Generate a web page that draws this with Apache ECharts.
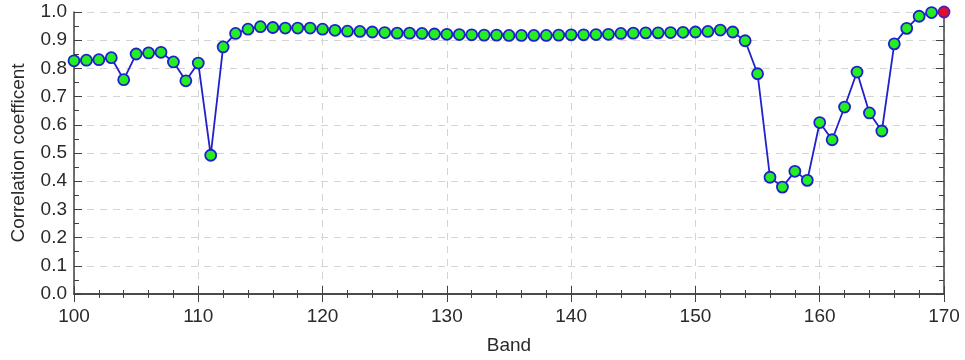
<!DOCTYPE html>
<html>
<head>
<meta charset="utf-8">
<script src="https://cdn.jsdelivr.net/npm/echarts@6/dist/echarts.min.js"></script>
<style>
  html, body { margin: 0; padding: 0; background: #fff; }
  #chart { width: 965px; height: 360px; }
</style>
</head>
<body>
<div id="chart"></div>
<script>
// band numbers (x)
var bands = [
  100, 101, 102, 103, 104, 105, 106, 107, 108, 109,
  110, 111, 112, 113, 114, 115, 116, 117, 118, 119,
  120, 121, 122, 123, 124, 125, 126, 127, 128, 129,
  130, 131, 132, 133, 134, 135, 136, 137, 138, 139,
  140, 141, 142, 143, 144, 145, 146, 147, 148, 149,
  150, 151, 152, 153, 154, 155, 156, 157, 158, 159,
  160, 161, 162, 163, 164, 165, 166, 167, 168, 169,
  170
];

// correlation coefficient per band
var corr = [
  0.827, 0.829, 0.831, 0.838, 0.760, 0.851, 0.855, 0.857, 0.823, 0.756,
  0.819, 0.492, 0.876, 0.924, 0.939, 0.948, 0.945, 0.943, 0.943, 0.943,
  0.939, 0.935, 0.932, 0.931, 0.929, 0.927, 0.925, 0.925, 0.924, 0.922,
  0.921, 0.920, 0.919, 0.918, 0.918, 0.917, 0.917, 0.917, 0.917, 0.918,
  0.919, 0.919, 0.920, 0.921, 0.924, 0.925, 0.926, 0.926, 0.927, 0.928,
  0.929, 0.931, 0.936, 0.929, 0.898, 0.781, 0.414, 0.379, 0.435, 0.403,
  0.608, 0.547, 0.663, 0.787, 0.642, 0.578, 0.887, 0.942, 0.985, 0.998,
  1.000
];

var yTicks = ['0.0', '0.1', '0.2', '0.3', '0.4', '0.5', '0.6', '0.7', '0.8', '0.9', '1.0'];

var myChart = echarts.init(document.getElementById('chart'));

var txt = '#2a2a2a';
var frame = '#404040';
var gridLine = { show: true, lineStyle: { color: '#d4d4d4', type: [7, 6], width: 1 } };

var points = bands.map(function (b, i) {
  var p = { value: [b, corr[i]] };
  if (i === bands.length - 1) {
    p.itemStyle = { color: '#e0102a', borderColor: '#5a1fb0' };
  }
  return p;
});

var option = {
  backgroundColor: '#fff',
  animation: false,
  grid: { left: 74, top: 12, width: 870, height: 284 },
  xAxis: [
    {
      type: 'value',
      min: 100, max: 170, interval: 10,
      name: 'Band',
      nameLocation: 'middle',
      nameGap: 42,
      nameTextStyle: { color: txt, fontSize: 19, fontFamily: 'Liberation Sans' },
      axisLine: { show: true, onZero: false, lineStyle: { color: frame, width: 1.5 } },
      axisTick: { show: true, inside: true, length: 8, lineStyle: { color: frame } },
      minorTick: { show: true, splitNumber: 5, length: 4, lineStyle: { color: frame } },
      axisLabel: { color: txt, fontSize: 19, fontFamily: 'Liberation Sans', margin: 13 },
      splitLine: gridLine
    },
    {
      type: 'value', position: 'top',
      min: 100, max: 170, interval: 10,
      axisLine: { show: true, lineStyle: { color: frame, width: 1.5 } },
      axisTick: { show: true, inside: true, length: 8, lineStyle: { color: frame } },
      minorTick: { show: true, splitNumber: 5, length: 4, lineStyle: { color: frame } },
      axisLabel: { show: false },
      splitLine: { show: false }
    }
  ],
  yAxis: [
    {
      type: 'value',
      min: 0, max: 1, interval: 0.1,
      name: 'Correlation coefficent',
      nameLocation: 'middle',
      nameGap: 46,
      nameTextStyle: { color: txt, fontSize: 19, fontFamily: 'Liberation Sans' },
      axisLine: { show: true, onZero: false, lineStyle: { color: frame, width: 1.5 } },
      axisTick: { show: true, inside: true, length: 8, lineStyle: { color: frame } },
      minorTick: { show: true, splitNumber: 2, length: 5, lineStyle: { color: frame } },
      axisLabel: {
        color: txt, fontSize: 19, fontFamily: 'Liberation Sans', margin: 7,
        formatter: function (v) { return yTicks[Math.round(v * 10)]; }
      },
      splitLine: gridLine
    },
    {
      type: 'value', position: 'right',
      min: 0, max: 1, interval: 0.1,
      axisLine: { show: true, lineStyle: { color: frame, width: 1.5 } },
      axisTick: { show: true, inside: true, length: 8, lineStyle: { color: frame } },
      minorTick: { show: true, splitNumber: 2, length: 5, lineStyle: { color: frame } },
      axisLabel: { show: false },
      splitLine: { show: false }
    }
  ],
  series: [
    {
      type: 'line',
      data: points,
      symbol: 'circle',
      symbolSize: 11,
      showAllSymbol: true,
      lineStyle: { color: '#2020cc', width: 1.8 },
      itemStyle: { color: '#22ee22', borderColor: '#2020cc', borderWidth: 1.8 },
      z: 5
    }
  ]
};

myChart.setOption(option);
window.addEventListener('resize', function () {
  myChart.resize();
});
</script>
</body>
</html>
